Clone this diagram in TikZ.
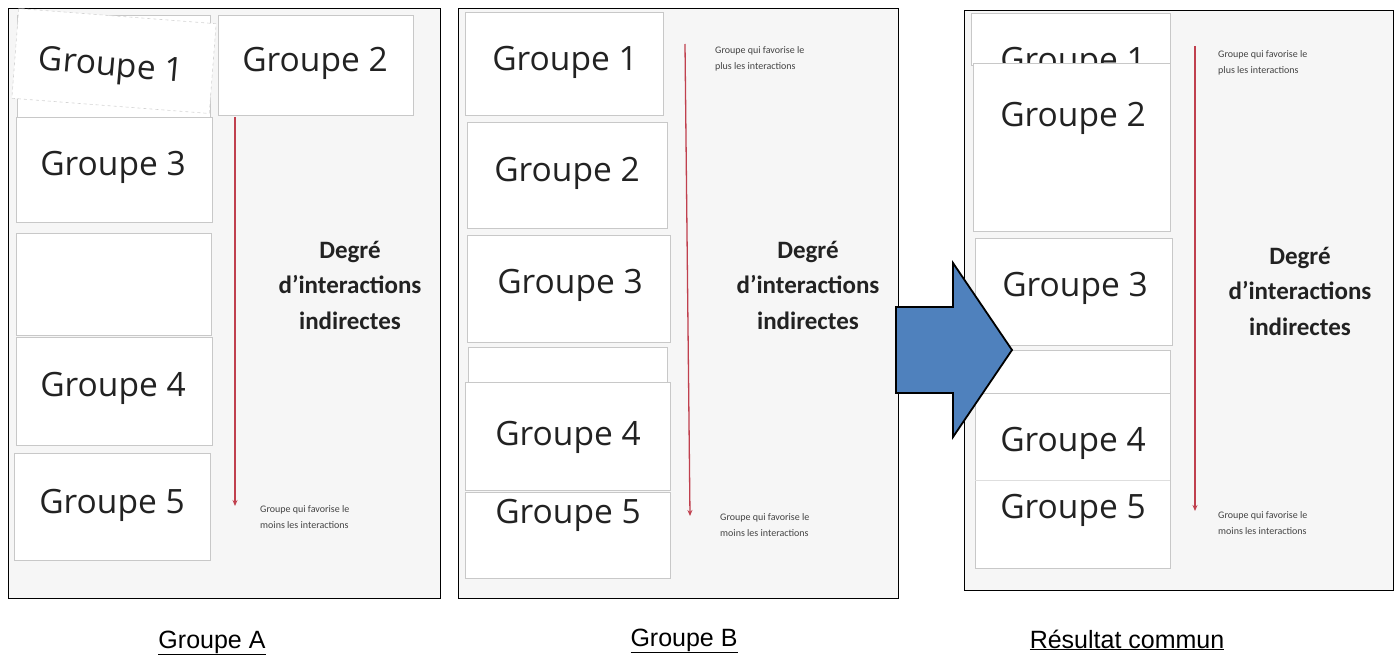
\documentclass[tikz,border=0pt]{standalone}
\usepackage{fontspec}
\usetikzlibrary{arrows.meta}
\newfontfamily\cardfont{Open Sans}
\newfontfamily\labfont{Carlito}
\newfontfamily\capfont{Liberation Sans}
\definecolor{paper}{HTML}{F6F6F6}
\definecolor{cardedge}{HTML}{C8C8C8}
\definecolor{ink}{HTML}{222222}
\definecolor{arrowred}{HTML}{C0404E}
\definecolor{bluearrow}{HTML}{4F81BD}
\tikzset{
  panel/.style={draw=black, line width=1.3pt, fill=paper},
  card/.style={draw=cardedge, line width=0.6pt, fill=white, anchor=north west, inner sep=0pt},
  gtext/.style={font=\cardfont\fontsize{33.5}{38}\selectfont, text=ink, inner sep=0pt},
  degre/.style={font=\labfont\bfseries\fontsize{25}{35.5}\selectfont, text=ink, align=center, inner sep=0pt},
  small/.style={font=\labfont\fontsize{10}{16}\selectfont, text=ink!85, align=left, anchor=north west, inner sep=0pt},
  redarrow/.style={draw=arrowred, line width=1.3pt, -{Stealth[length=6pt,width=5pt]}},
  caption/.style={font=\capfont\fontsize{25}{28}\selectfont, text=black, anchor=base, inner sep=0pt},
}
\begin{document}
\begin{tikzpicture}[x=1pt,y=-1pt]
\useasboundingbox (0,0) rectangle (1398,655);
\fill[white] (0,0) rectangle (1398,655);

% ================= Panel A =================
\node[panel, anchor=north west, minimum width=432pt, minimum height=590pt, inner sep=0pt] (pA) at (8,8) {};
\node[card, minimum width=193pt, minimum height=102pt] (cA1b) at (17,15) {};
\node[card, draw=cardedge!80, dashed, anchor=center, rotate=-4.4, minimum width=198pt, minimum height=90pt] (cA1) at (114,61) {};
\node[gtext, rotate=-5] (tA1) at (111,68) {Groupe 1};
\node[card, minimum width=195pt, minimum height=100pt] (cA2) at (218,15) {};
\node[gtext] (tA2) at (315,63) {Groupe 2};
\node[card, minimum width=196pt, minimum height=105pt] (cA3) at (16,117) {};
\node[gtext] (tA3) at (113,167) {Groupe 3};
\node[card, minimum width=195pt, minimum height=102pt] (cAx) at (16,233) {};
\node[card, minimum width=196pt, minimum height=108pt] (cA4) at (16,337) {};
\node[gtext] (tA4) at (113,388) {Groupe 4};
\node[card, minimum width=196pt, minimum height=107pt] (cA5) at (14,453) {};
\node[gtext] (tA5) at (112,505) {Groupe 5};
\coordinate (aA1) at (235,117);
\coordinate (aA2) at (235,506);
\draw[redarrow] (aA1) -- (aA2);
\node[degre] (dA) at (350,285) {Degré\\d’interactions\\indirectes};
\node[small] (bA) at (260,505) {Groupe qui favorise le\\moins les interactions};

% ================= Panel B =================
\node[panel, anchor=north west, minimum width=440pt, minimum height=590pt, inner sep=0pt] (pB) at (458,8) {};
\node[card, minimum width=198pt, minimum height=103pt] (cB1) at (465,12) {};
\node[gtext] (tB1) at (565,62) {Groupe 1};
\node[card, minimum width=200pt, minimum height=106pt] (cB2) at (467,122) {};
\node[gtext] (tB2) at (567,173) {Groupe 2};
\node[card, minimum width=203pt, minimum height=107pt] (cB3) at (467,235) {};
\node[gtext] (tB3) at (570,285) {Groupe 3};
\node[card, minimum width=199pt, minimum height=40pt] (cBx) at (468,347) {};
\node[card, minimum width=205pt, minimum height=108pt] (cB4) at (465,382) {};
\node[gtext] (tB4) at (568,437) {Groupe 4};
\node[card, minimum width=205pt, minimum height=86pt] (cB5) at (465,492) {};
\node[gtext] (tB5) at (568,515) {Groupe 5};
\coordinate (aB1) at (685,44);
\coordinate (aB2) at (690,516);
\draw[redarrow] (aB1) -- (aB2);
\node[small] (hB) at (715,46) {Groupe qui favorise le\\plus les interactions};
\node[degre] (dB) at (808,285) {Degré\\d’interactions\\indirectes};
\node[small] (bB) at (720,513) {Groupe qui favorise le\\moins les interactions};

% ================= Panel C =================
\node[panel, anchor=north west, minimum width=429pt, minimum height=580pt, inner sep=0pt] (pC) at (964,10) {};
\node[card, minimum width=199pt, minimum height=52pt] (cC1) at (971,13) {};
\node[gtext] (tC1) at (1073,63) {Groupe 1};
\node[card, minimum width=197pt, minimum height=168pt] (cC2) at (973,63) {};
\node[gtext] (tC2) at (1073,118) {Groupe 2};
\node[card, minimum width=197pt, minimum height=107pt] (cC3) at (975,238) {};
\node[gtext] (tC3) at (1075,288) {Groupe 3};
\node[card, minimum width=195pt, minimum height=48pt] (cCx) at (975,350) {};
\node[card, minimum width=195pt, minimum height=175pt] (cC4) at (975,393) {};
\node[gtext] (tC4) at (1073,443) {Groupe 4};
\draw[cardedge!60, line width=0.5pt] (975,480) -- (1170,480);
\node[gtext] (tC5) at (1073,510) {Groupe 5};
\coordinate (aC1) at (1195,46);
\coordinate (aC2) at (1195,511);
\draw[redarrow] (aC1) -- (aC2);
\node[small] (hC) at (1218,50) {Groupe qui favorise le\\plus les interactions};
\node[degre] (dC) at (1300,291) {Degré\\d’interactions\\indirectes};
\node[small] (bC) at (1218,511) {Groupe qui favorise le\\moins les interactions};

% ================= Blue arrow =================
\draw[fill=bluearrow, draw=black, line width=1.8pt, line join=miter]
  (896,307) -- (953,307) -- (953,263) -- (1012,350) -- (953,437) -- (953,393) -- (896,393) -- cycle;

% ================= Captions =================
\node[caption] (capA) at (212,648) {\underline{Groupe A}};
\node[caption] (capB) at (684,646) {\underline{Groupe B}};
\node[caption] (capC) at (1127,648) {\underline{Résultat commun}};
\end{tikzpicture}
\end{document}
